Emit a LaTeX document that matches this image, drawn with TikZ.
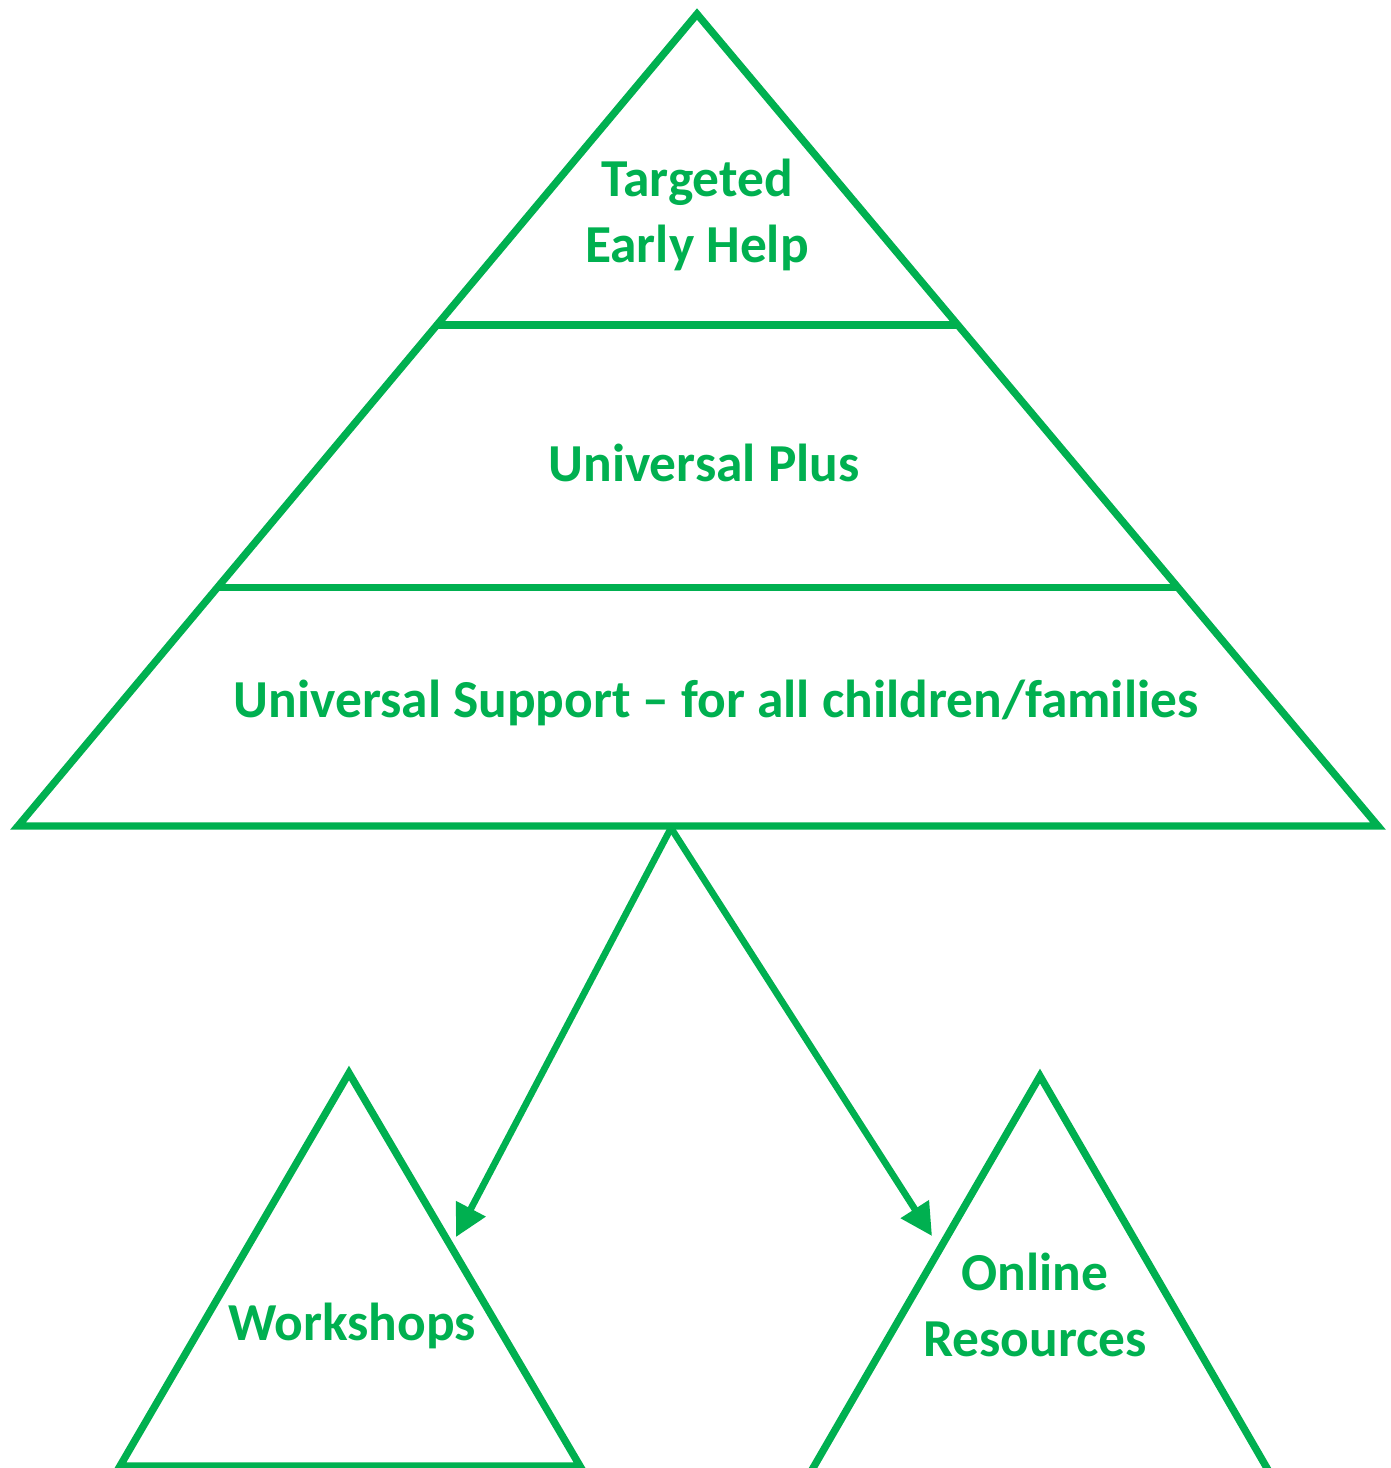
\documentclass[tikz,border=0pt]{standalone}
\usepackage{fontspec}
\setmainfont{Carlito}
\usetikzlibrary{arrows.meta,calc}
\definecolor{tiergreen}{HTML}{00B050}

\begin{document}
\begin{tikzpicture}[x=1cm,y=-1cm,
    tier/.style={draw=tiergreen,line width=2.1pt,line join=miter},
    label/.style={text=tiergreen,font=\fontsize{15.2}{18.6}\selectfont\bfseries,align=center},
    link/.style={draw=tiergreen,line width=1.9pt,-{Triangle[length=0.32cm,width=0.32cm]}}]
      \useasboundingbox (0,0) rectangle (13.91,14.68);
      \clip (0,0) rectangle (13.91,14.68);

      % big pyramid
      \coordinate (top) at (6.97,0.14);
      \coordinate (bl) at (0.18,8.26);
      \coordinate (br) at (13.78,8.26);
      \draw[tier] (top) -- (bl) -- (br) -- cycle;
      \draw[tier] ($(top)!0.383!(bl)$) -- ($(top)!0.383!(br)$);
      \draw[tier] ($(top)!0.706!(bl)$) -- ($(top)!0.706!(br)$);

      \node[label] (teh) at (6.97,2.15) {Targeted\\Early Help};
      \node[label] (plus) at (7.04,4.63) {Universal Plus};
      \node[label] (univ) at (7.16,7.03) {Universal Support -- for all children/families};

      % small pyramids
      \coordinate (wtop) at (3.49,10.73);
      \draw[tier] (wtop) -- (1.20,14.66) -- (5.80,14.66) -- cycle;
      \node[label] (work) at (3.52,13.26) {Workshops};

      \coordinate (otop) at (10.40,10.76);
      \draw[tier] (otop) -- (8.09,14.75) -- (12.71,14.75) -- cycle;
      \node[label] (online) at (10.35,13.05) {Online\\Resources};

      \coordinate (split) at (6.71,8.28);
      \coordinate (wtip) at (4.56,12.37);
      \coordinate (otip) at (9.32,12.36);
      \draw[link] (split) -- (wtip);
      \draw[link] (split) -- (otip);
\end{tikzpicture}
\end{document}
